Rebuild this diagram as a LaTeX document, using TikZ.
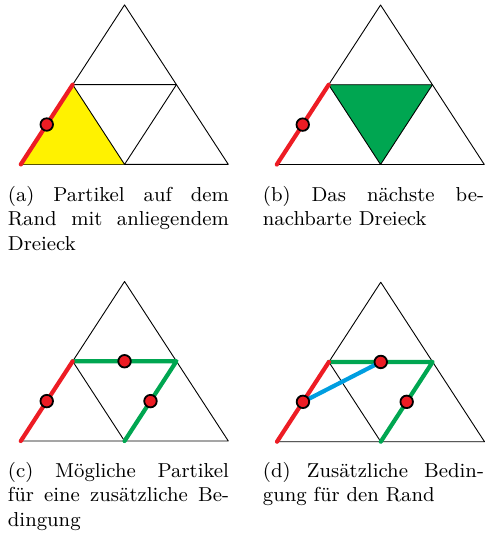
\documentclass[tikz,border=0pt]{standalone}
\usetikzlibrary{calc}
\definecolor{myred}{RGB}{237,28,36}
\definecolor{mygreen}{RGB}{0,166,81}
\definecolor{myyellow}{RGB}{255,242,0}
\definecolor{myblue}{RGB}{0,158,224}
\newcommand\mkcoords[1]{%
 \coordinate (#1L) at (0,159.5);
 \coordinate (#1R) at (207.5,159.5);
 \coordinate (#1T) at (103.75,0);
 \coordinate (#1ML) at (51.875,79.75);
 \coordinate (#1MR) at (155.625,79.75);
 \coordinate (#1MB) at (103.75,159.5);
}
\begin{document}
\begin{tikzpicture}[x=1pt,y=-1pt,
  blk/.style={line width=0.9pt,black,line join=round},
  redseg/.style={line width=4.2pt,myred,line cap=round},
  greenseg/.style={line width=4.2pt,mygreen,line cap=round,line join=round},
  blueseg/.style={line width=4.2pt,myblue,line cap=round},
  dot/.style={circle,fill=myred,draw=black,line width=1.8pt,minimum size=12.5pt,inner sep=0pt},
  capt/.style={scale=2.245,inner sep=0pt,text width=98.44pt,align=justify,font=\fontsize{9}{11}\selectfont,anchor=base west}]
\useasboundingbox (0,0) rectangle (490,534);
% (a)
\begin{scope}[shift={(20.8,4.9)}]\mkcoords{a}\end{scope}
\draw[blk] (aL)--(aR)--(aT)--cycle;
\fill[myyellow] (aL)--(aML)--(aMB)--cycle;
\draw[blk] (aML)--(aMR)--(aMB)--cycle;
\draw[redseg] (aL)--(aML);
\node[dot] (aP) at ($(aL)!0.5!(aML)$) {};
\node[capt] (capa) at (7.5,201.3) {(a) Partikel auf dem\linebreak Rand mit anliegendem\linebreak Dreieck};
% (b)
\begin{scope}[shift={(276.8,5.0)}]\mkcoords{b}\end{scope}
\draw[blk] (bL)--(bR)--(bT)--cycle;
\fill[mygreen] (bML)--(bMR)--(bMB)--cycle;
\draw[blk] (bML)--(bMR)--(bMB)--cycle;
\draw[redseg] (bL)--(bML);
\node[dot] (bP) at ($(bL)!0.5!(bML)$) {};
\node[capt] (capb) at (262.5,201.3) {(b) Das nächste be-\linebreak nachbarte Dreieck};
% (c)
\begin{scope}[shift={(20.8,281.5)}]\mkcoords{c}\end{scope}
\draw[blk] (cL)--(cR)--(cT)--cycle;
\draw[blk] (cML)--(cMB);
\draw[greenseg] (cML)--(cMR)--(cMB);
\draw[redseg] (cL)--(cML);
\node[dot] (cP) at ($(cL)!0.5!(cML)$) {};
\node[dot] (cQ) at ($(cML)!0.5!(cMR)$) {};
\node[dot] (cS) at ($(cMR)!0.5!(cMB)$) {};
\node[capt] (capc) at (7.5,477.0) {(c) Mögliche Partikel\linebreak für eine zusätzliche Be-\linebreak dingung};
% (d)
\begin{scope}[shift={(277.0,282.2)}]\mkcoords{d}\end{scope}
\draw[blk] (dL)--(dR)--(dT)--cycle;
\draw[blk] (dML)--(dMB);
\draw[greenseg] (dML)--(dMR)--(dMB);
\draw[redseg] (dL)--(dML);
\coordinate (dPc) at ($(dL)!0.5!(dML)$);
\coordinate (dQc) at ($(dML)!0.5!(dMR)$);
\draw[blueseg] (dPc)--(dQc);
\node[dot] (dP) at (dPc) {};
\node[dot] (dQ) at (dQc) {};
\node[dot] (dS) at ($(dMR)!0.5!(dMB)$) {};
\node[capt] (capd) at (262.5,477.0) {(d) Zusätzliche Bedin-\linebreak gung für den Rand};
\end{tikzpicture}
\end{document}
